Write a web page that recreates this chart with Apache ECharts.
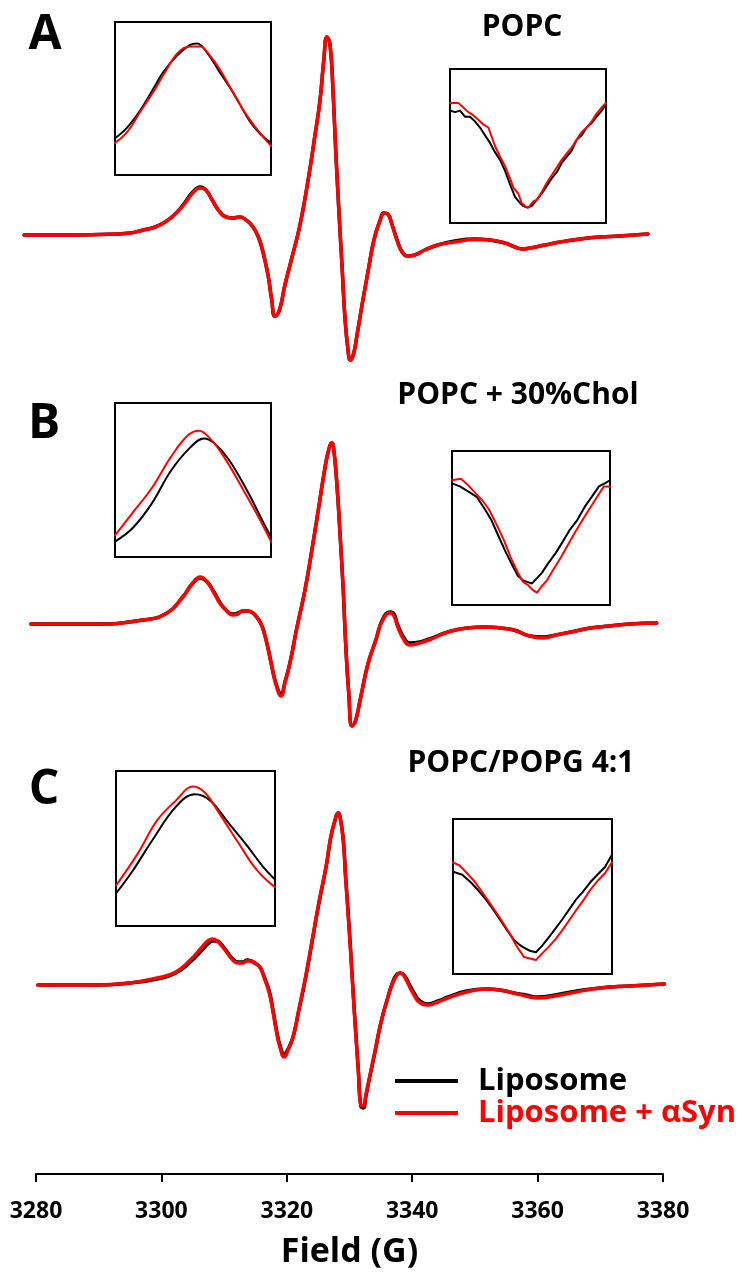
<!DOCTYPE html>
<html>
<head>
<meta charset="utf-8">
<script src="https://cdn.jsdelivr.net/npm/echarts@6/dist/echarts.min.js"></script>
<style>
html,body{margin:0;padding:0;background:#fff;}
#chart{width:742px;height:1277px;}
</style>
</head>
<body>
<div id="chart"></div>
<script>
// ---------- Main spectra (field in G, amplitude in a.u.) ----------
const fieldA = [3278.1, 3283.8, 3290.2, 3295.0, 3297.1, 3299.0, 3300.6, 3302.2, 3303.8, 3305.0, 3306.2, 3307.1, 3308.1, 3309.2, 3310.3, 3311.4, 3312.5, 3313.5, 3314.5, 3315.4, 3316.2, 3317.0, 3317.6, 3318.1, 3318.8, 3319.7, 3320.8, 3322.1, 3323.4, 3324.5, 3325.3, 3325.9, 3326.4, 3326.9, 3327.4, 3327.8, 3328.3, 3328.8, 3329.3, 3329.8, 3330.1, 3330.6, 3331.2, 3332.0, 3333.0, 3333.9, 3334.9, 3335.5, 3336.1, 3336.8, 3337.6, 3338.4, 3339.3, 3340.4, 3342.0, 3344.1, 3346.8, 3350.0, 3352.4, 3354.8, 3356.4, 3357.5, 3358.8, 3361.2, 3363.6, 3366.8, 3370.0, 3373.1, 3377.6];
const synA = [0, 0, 0.005, 0.02, 0.05, 0.08, 0.13, 0.21, 0.32, 0.42, 0.47, 0.45, 0.35, 0.24, 0.18, 0.17, 0.18, 0.15, 0.09, -0.01, -0.17, -0.40, -0.65, -0.81, -0.75, -0.50, -0.23, 0.10, 0.55, 1.00, 1.35, 1.75, 1.98, 1.90, 1.40, 0.85, 0.25, -0.30, -0.85, -1.17, -1.25, -1.20, -1.00, -0.70, -0.35, -0.05, 0.15, 0.22, 0.21, 0.10, -0.06, -0.17, -0.21, -0.20, -0.15, -0.10, -0.07, -0.045, -0.05, -0.08, -0.12, -0.14, -0.13, -0.10, -0.07, -0.04, -0.02, -0.01, 0.01];
const lipoA = [0, 0, 0.005, 0.02, 0.05, 0.08, 0.13, 0.21, 0.33, 0.43, 0.48, 0.45, 0.35, 0.24, 0.18, 0.17, 0.18, 0.15, 0.09, -0.01, -0.17, -0.40, -0.65, -0.81, -0.76, -0.50, -0.23, 0.10, 0.55, 1.00, 1.35, 1.75, 1.98, 1.90, 1.40, 0.85, 0.25, -0.30, -0.85, -1.17, -1.25, -1.20, -1.00, -0.70, -0.35, -0.05, 0.15, 0.22, 0.21, 0.10, -0.05, -0.17, -0.21, -0.20, -0.15, -0.10, -0.06, -0.04, -0.05, -0.08, -0.12, -0.14, -0.13, -0.10, -0.07, -0.04, -0.02, -0.01, 0.01];

const fieldB = [3279.2, 3289.4, 3297.1, 3300.9, 3303.4, 3304.9, 3306.2, 3307.3, 3308.4, 3309.3, 3310.3, 3311.3, 3312.2, 3313.0, 3313.8, 3314.6, 3315.2, 3315.9, 3316.4, 3317.0, 3317.5, 3318.3, 3319.1, 3319.7, 3320.5, 3321.6, 3322.9, 3324.0, 3325.1, 3325.9, 3326.6, 3327.2, 3327.5, 3328.0, 3328.5, 3329.0, 3329.4, 3329.9, 3330.4, 3330.9, 3331.7, 3332.9, 3334.2, 3335.3, 3336.5, 3337.1, 3337.7, 3338.7, 3339.6, 3341.2, 3342.7, 3345.7, 3348.7, 3351.8, 3354.0, 3356.2, 3358.8, 3360.9, 3362.9, 3365.3, 3368.4, 3371.5, 3374.7, 3379.0];
const synB = [0, 0, 0.04, 0.11, 0.27, 0.40, 0.47, 0.42, 0.31, 0.21, 0.14, 0.09, 0.10, 0.13, 0.13, 0.11, 0.07, 0.00, -0.09, -0.24, -0.39, -0.61, -0.72, -0.59, -0.39, -0.04, 0.34, 0.74, 1.17, 1.49, 1.72, 1.81, 1.74, 1.39, 0.89, 0.34, -0.21, -0.71, -1.02, -0.98, -0.76, -0.41, -0.16, 0.04, 0.11, 0.08, -0.03, -0.16, -0.21, -0.19, -0.16, -0.08, -0.04, -0.03, -0.04, -0.06, -0.12, -0.14, -0.11, -0.08, -0.04, -0.02, 0.00, 0.01];
const lipoB = [0, 0, 0.04, 0.11, 0.27, 0.40, 0.46, 0.42, 0.32, 0.22, 0.14, 0.10, 0.11, 0.13, 0.13, 0.11, 0.07, 0.00, -0.09, -0.24, -0.39, -0.60, -0.70, -0.58, -0.39, -0.04, 0.34, 0.74, 1.17, 1.49, 1.72, 1.81, 1.74, 1.39, 0.89, 0.34, -0.21, -0.71, -1.02, -0.98, -0.76, -0.41, -0.16, 0.05, 0.12, 0.10, -0.01, -0.14, -0.19, -0.18, -0.15, -0.08, -0.04, -0.03, -0.04, -0.06, -0.12, -0.13, -0.11, -0.08, -0.04, -0.02, 0.00, 0.01];

const fieldC = [3280.3, 3289.4, 3295.0, 3299.3, 3302.3, 3304.6, 3306.5, 3307.4, 3308.2, 3308.9, 3309.5, 3310.5, 3311.4, 3312.2, 3313.0, 3313.7, 3314.3, 3314.9, 3315.7, 3316.4, 3317.2, 3317.8, 3318.3, 3318.9, 3319.6, 3320.2, 3321.0, 3321.9, 3322.9, 3324.0, 3325.1, 3326.3, 3327.0, 3327.7, 3328.2, 3328.5, 3329.0, 3329.4, 3329.9, 3330.4, 3330.9, 3331.4, 3331.8, 3332.2, 3332.6, 3333.1, 3334.1, 3335.0, 3336.0, 3336.9, 3337.6, 3338.1, 3338.7, 3339.6, 3340.4, 3341.1, 3342.4, 3344.1, 3345.7, 3348.7, 3351.8, 3354.0, 3356.2, 3358.1, 3360.1, 3362.8, 3365.3, 3370.0, 3374.7, 3380.2];
const synC = [0, 0, 0.02, 0.07, 0.13, 0.25, 0.38, 0.44, 0.46, 0.44, 0.40, 0.32, 0.25, 0.22, 0.22, 0.24, 0.24, 0.22, 0.18, 0.07, -0.08, -0.27, -0.45, -0.62, -0.72, -0.65, -0.52, -0.25, 0.05, 0.43, 0.82, 1.20, 1.48, 1.65, 1.72, 1.68, 1.45, 1.05, 0.60, 0.10, -0.40, -0.85, -1.20, -1.21, -1.10, -0.95, -0.65, -0.38, -0.15, 0.02, 0.10, 0.12, 0.09, -0.02, -0.11, -0.17, -0.20, -0.17, -0.13, -0.07, -0.04, -0.05, -0.08, -0.11, -0.13, -0.11, -0.08, -0.03, -0.01, 0.01];
const lipoC = [0, 0, 0.02, 0.06, 0.12, 0.23, 0.35, 0.41, 0.44, 0.44, 0.41, 0.33, 0.26, 0.23, 0.23, 0.25, 0.24, 0.22, 0.18, 0.08, -0.06, -0.25, -0.43, -0.60, -0.69, -0.64, -0.52, -0.26, 0.04, 0.42, 0.81, 1.19, 1.47, 1.65, 1.72, 1.68, 1.46, 1.07, 0.62, 0.12, -0.38, -0.84, -1.21, -1.23, -1.12, -0.96, -0.66, -0.38, -0.15, 0.03, 0.11, 0.12, 0.10, 0.00, -0.09, -0.15, -0.19, -0.16, -0.12, -0.06, -0.04, -0.05, -0.08, -0.10, -0.12, -0.10, -0.07, -0.03, -0.01, 0.01];

// ---------- Insets: [field (G), normalised intensity in the window] ----------
const insetPeakLipoA = [[3302.0,0.24],[3302.62,0.31],[3303.28,0.42],[3303.95,0.56],[3304.46,0.67],[3305.18,0.78],[3305.85,0.85],[3306.21,0.86],[3306.72,0.80],[3307.38,0.67],[3308.05,0.54],[3308.92,0.35],[3309.44,0.27],[3310.0,0.21]];
const insetPeakSynA  = [[3302.0,0.21],[3302.62,0.28],[3303.28,0.41],[3303.95,0.54],[3304.56,0.67],[3305.23,0.80],[3305.85,0.84],[3306.36,0.84],[3306.87,0.78],[3307.38,0.69],[3308.05,0.54],[3308.92,0.36],[3310.0,0.19]];
const insetDipLipoA = [[3352.0,0.73],[3352.39,0.72],[3352.77,0.73],[3353.15,0.69],[3353.54,0.69],[3353.92,0.66],[3354.31,0.62],[3354.69,0.57],[3355.08,0.52],[3355.46,0.46],[3355.85,0.41],[3356.23,0.34],[3356.62,0.25],[3357.0,0.17],[3357.38,0.13],[3357.64,0.11],[3357.95,0.10],[3358.28,0.11],[3358.67,0.15],[3359.05,0.19],[3359.44,0.24],[3359.82,0.29],[3360.21,0.33],[3360.59,0.39],[3360.97,0.43],[3361.36,0.47],[3361.74,0.54],[3362.13,0.57],[3362.51,0.62],[3362.9,0.65],[3363.28,0.69],[3363.67,0.73],[3364.0,0.77]];
const insetDipSynA = [[3352.0,0.78],[3352.39,0.78],[3352.64,0.78],[3353.03,0.75],[3353.41,0.72],[3353.79,0.70],[3354.18,0.67],[3354.56,0.64],[3354.95,0.62],[3355.21,0.56],[3355.46,0.50],[3355.85,0.43],[3356.23,0.37],[3356.62,0.29],[3356.87,0.23],[3357.26,0.19],[3357.51,0.13],[3357.77,0.11],[3358.03,0.10],[3358.41,0.14],[3358.67,0.15],[3359.05,0.20],[3359.44,0.26],[3359.82,0.31],[3360.21,0.36],[3360.59,0.41],[3360.97,0.45],[3361.36,0.49],[3361.74,0.54],[3362.13,0.59],[3362.51,0.62],[3362.9,0.66],[3363.28,0.71],[3363.67,0.75],[3364.0,0.78]];

const insetPeakLipoB = [[3302.0,0.10],[3302.92,0.19],[3303.9,0.35],[3304.87,0.56],[3305.85,0.71],[3306.56,0.77],[3307.08,0.74],[3307.85,0.63],[3308.82,0.42],[3309.54,0.24],[3310.0,0.13]];
const insetPeakSynB  = [[3302.0,0.14],[3302.92,0.29],[3303.9,0.45],[3304.87,0.65],[3305.74,0.79],[3306.31,0.82],[3306.87,0.77],[3307.59,0.65],[3308.56,0.44],[3309.44,0.24],[3310.0,0.10]];
const insetDipLipoB = [[3352.0,0.79],[3352.6,0.77],[3353.37,0.73],[3353.9,0.70],[3354.51,0.62],[3355.0,0.55],[3355.57,0.44],[3356.1,0.34],[3356.63,0.25],[3357.0,0.19],[3357.39,0.16],[3357.7,0.15],[3358.08,0.14],[3358.4,0.17],[3358.84,0.21],[3359.3,0.27],[3359.9,0.34],[3360.4,0.41],[3360.96,0.49],[3361.5,0.55],[3362.1,0.64],[3362.6,0.70],[3363.16,0.77],[3363.6,0.79],[3364.0,0.81]];
const insetDipSynB = [[3352.0,0.81],[3352.68,0.82],[3353.2,0.78],[3353.75,0.73],[3354.3,0.68],[3354.81,0.62],[3355.4,0.52],[3355.95,0.42],[3356.5,0.30],[3357.01,0.21],[3357.4,0.15],[3357.77,0.13],[3358.1,0.10],[3358.46,0.08],[3358.8,0.12],[3359.22,0.16],[3359.7,0.23],[3360.28,0.31],[3360.8,0.39],[3361.34,0.47],[3361.9,0.55],[3362.41,0.62],[3363.0,0.70],[3363.54,0.77],[3364.0,0.77]];

const insetPeakLipoC = [[3302.0,0.21],[3302.86,0.36],[3303.81,0.55],[3305.02,0.77],[3305.97,0.85],[3306.73,0.81],[3307.69,0.66],[3308.64,0.51],[3309.35,0.39],[3310.0,0.30]];
const insetPeakSynC  = [[3302.0,0.26],[3303.11,0.47],[3304.06,0.68],[3305.02,0.81],[3305.87,0.90],[3306.48,0.86],[3307.18,0.73],[3308.14,0.54],[3309.09,0.36],[3310.0,0.25]];
const insetDipLipoC = [[3352.0,0.66],[3352.7,0.64],[3353.36,0.59],[3353.9,0.54],[3354.49,0.48],[3355.0,0.42],[3355.55,0.35],[3356.1,0.28],[3356.6,0.22],[3357.0,0.19],[3357.36,0.17],[3357.8,0.15],[3358.26,0.14],[3358.7,0.18],[3359.17,0.23],[3359.7,0.29],[3360.23,0.35],[3360.8,0.42],[3361.28,0.48],[3361.8,0.53],[3362.34,0.59],[3362.9,0.64],[3363.47,0.69],[3364.0,0.77]];
const insetDipSynC = [[3352.0,0.72],[3352.5,0.70],[3353.06,0.65],[3353.6,0.60],[3354.11,0.54],[3354.6,0.48],[3355.17,0.41],[3355.7,0.34],[3356.3,0.26],[3356.8,0.18],[3357.36,0.11],[3357.8,0.10],[3358.26,0.09],[3358.7,0.13],[3359.17,0.17],[3359.7,0.22],[3360.23,0.28],[3360.8,0.35],[3361.28,0.41],[3361.8,0.47],[3362.34,0.54],[3362.9,0.60],[3363.47,0.65],[3364.0,0.72]];

const xTicks = {min: 3280, max: 3380, interval: 20};
const panelLetters = ['A', 'B', 'C'];
const panelTitles = ['POPC', 'POPC + 30%Chol', 'POPC/POPG 4:1'];
const seriesNames = ['Liposome', 'Liposome + \u03b1Syn'];

// ---------- build ----------
const FONT = "'Open Sans', 'Noto Sans', 'DejaVu Sans', sans-serif";
const BLACK = '#000000', RED = '#ff0000';
const pairs = (f, v) => f.map((x, i) => [x, v[i]]);
const PX_PER_G = (663 - 36) / (xTicks.max - xTicks.min);
// panels A and B start slightly left of 3280 G: extend their hidden axes
const panelXMin = [3278, 3279, xTicks.min];

const grids = [
  {left: 36 - (xTicks.min - panelXMin[0]) * PX_PER_G, right: 79, top: 35, height: 400},
  {left: 36 - (xTicks.min - panelXMin[1]) * PX_PER_G, right: 79, top: 424, height: 400},
  {left: 36, right: 79, top: 785, height: 389},
  {left: 115, top: 22, width: 156, height: 153},
  {left: 450, top: 69, width: 156, height: 154},
  {left: 115, top: 403, width: 156, height: 154},
  {left: 452, top: 451, width: 158, height: 154},
  {left: 116, top: 771, width: 159, height: 155},
  {left: 453, top: 819, width: 159, height: 155}
].map((g, i) => Object.assign(g, i >= 3 ? {show: true, borderColor: '#000', borderWidth: 2, backgroundColor: 'transparent'} : {show: false}));

const xAxes = [], yAxes = [];
const yRanges = [[-2, 2], [-2, 2], [-1.89, 2.0]];
for (let i = 0; i < 3; i++) {
  const visible = i === 2;
  xAxes.push({
    type: 'value', gridIndex: i, min: panelXMin[i], max: xTicks.max, interval: xTicks.interval,
    show: visible,
    axisLine: {show: true, onZero: false, lineStyle: {color: '#000', width: 2}},
    axisTick: {show: true, length: 8, lineStyle: {color: '#000', width: 2}},
    axisLabel: {show: true, color: '#000', fontSize: 23, fontWeight: 'bold', fontFamily: FONT, margin: 26,
                formatter: v => String(v)},
    splitLine: {show: false},
    name: visible ? 'Field (G)' : '', nameLocation: 'middle', nameGap: 61,
    nameTextStyle: {color: '#000', fontSize: 34, fontWeight: 'bold', fontFamily: FONT}
  });
  yAxes.push({type: 'value', gridIndex: i, min: yRanges[i][0], max: yRanges[i][1], show: false, splitLine: {show: false}});
}
for (let i = 3; i < 9; i++) {
  const left = (i % 2) === 1;
  xAxes.push({type: 'value', gridIndex: i, min: left ? 3302 : 3352, max: left ? 3310 : 3364, show: false, splitLine: {show: false}});
  yAxes.push({type: 'value', gridIndex: i, min: 0, max: 1, show: false, splitLine: {show: false}});
}

const series = [];
function addLine(name, color, data, idx, width, smooth, clip) {
  series.push({
    name, type: 'line', xAxisIndex: idx, yAxisIndex: idx, data,
    showSymbol: false, symbol: 'none', smooth, clip,
    color, itemStyle: {color},
    lineStyle: {color, width, join: 'round', cap: 'round'},
    emphasis: {disabled: true}, silent: true, z: color === RED ? 3 : 2
  });
}
const mains = [[fieldA, lipoA, synA], [fieldB, lipoB, synB], [fieldC, lipoC, synC]];
mains.forEach((m, i) => {
  addLine(seriesNames[0], BLACK, pairs(m[0], m[1]), i, 3.5, 0.5, false);
  addLine(seriesNames[1], RED, pairs(m[0], m[2]), i, 3.5, 0.5, false);
});
const insets = [
  [insetPeakLipoA, insetPeakSynA, true], [insetDipLipoA, insetDipSynA, false],
  [insetPeakLipoB, insetPeakSynB, true], [insetDipLipoB, insetDipSynB, false],
  [insetPeakLipoC, insetPeakSynC, true], [insetDipLipoC, insetDipSynC, false]
];
insets.forEach((s, k) => {
  addLine(seriesNames[0], BLACK, s[0], k + 3, 2, s[2] ? 0.4 : false, true);
  addLine(seriesNames[1], RED, s[1], k + 3, 2, s[2] ? 0.4 : false, true);
});

const letterPos = [[45, 35], [44, 424], [44, 790]];
const titlePos = [[522, 27], [518, 395], [521, 763]];
const graphic = [];
panelLetters.forEach((t, i) => graphic.push({
  type: 'text', x: letterPos[i][0], y: letterPos[i][1], silent: true,
  style: {text: t, fill: '#000', font: 'bold 48px ' + FONT, textAlign: 'center', textVerticalAlign: 'middle'}
}));
panelTitles.forEach((t, i) => graphic.push({
  type: 'text', x: titlePos[i][0], y: titlePos[i][1], silent: true,
  style: {text: t, fill: '#000', font: 'bold 30px ' + FONT, textAlign: 'center', textVerticalAlign: 'middle'}
}));

const chart = echarts.init(document.getElementById('chart'), null, {renderer: 'canvas'});
chart.setOption({
  animation: false,
  backgroundColor: '#ffffff',
  grid: grids,
  xAxis: xAxes,
  yAxis: yAxes,
  legend: {
    orient: 'vertical', left: 395, top: 1065, padding: 0, itemGap: 0,
    icon: 'rect', itemWidth: 63, itemHeight: 4, selectedMode: false,
    textStyle: {fontSize: 31, fontWeight: 'bold', fontFamily: FONT, lineHeight: 32, padding: [0, 0, 0, 15]},
    data: [
      {name: seriesNames[0], textStyle: {color: BLACK}},
      {name: seriesNames[1], textStyle: {color: RED}}
    ]
  },
  graphic,
  series
});
</script>
</body>
</html>
